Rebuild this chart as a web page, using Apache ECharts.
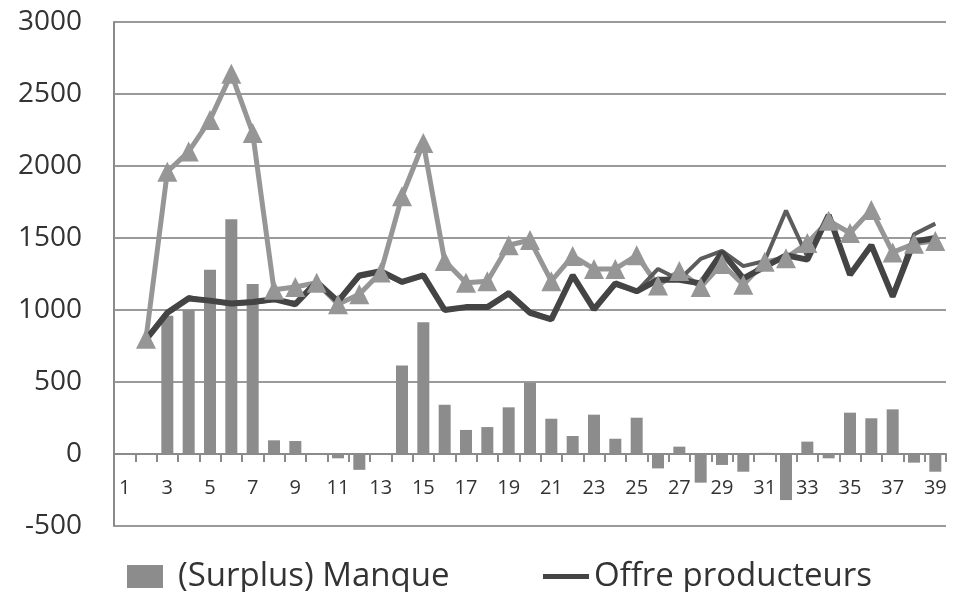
<!DOCTYPE html>
<html>
<head>
<meta charset="utf-8">
<script src="https://cdn.jsdelivr.net/npm/echarts@6/dist/echarts.min.js"></script>
<style>html,body{margin:0;padding:0;background:#fff}#c{width:958px;height:592px}</style>
</head>
<body>
<div id="c"></div>
<script>
const categories = ['1','2','3','4','5','6','7','8','9','10','11','12','13','14','15','16','17','18','19','20','21','22','23','24','25','26','27','28','29','30','31','32','33','34','35','36','37','38','39'];
const manque = [null,-5,960,1000,1280,1630,1180,95,90,0,-30,-110,0,615,915,342,167,187,324,495,245,125,273,106,252,-100,51,-199,-76,-123,8,-320,86,-30,287,248,310,-60,-123];
const demande = [null,800,1960,2100,2320,2640,2230,1140,1160,1190,1040,1110,1260,1790,2160,1340,1190,1200,1450,1486,1200,1375,1285,1285,1380,1170,1270,1160,1320,1175,1335,1360,1465,1620,1535,1695,1400,1460,1480];
const offreTotale = [null,800,990,1090,1060,1040,1050,1070,1050,1200,1065,1230,1260,1190,1245,1000,1023,1013,1126,991,940,1245,1007,1174,1130,1285,1210,1355,1410,1305,1340,1690,1370,1650,1245,1446,1090,1525,1600];
const offreProducteurs = [null,795,980,1080,1065,1045,1055,1075,1040,1195,1060,1240,1270,1195,1240,1000,1020,1020,1115,980,935,1240,1005,1185,1130,1210,1210,1185,1400,1220,1300,1380,1350,1660,1245,1450,1095,1475,1500];
const yTicks = {min:-500, max:3000, interval:500};

const FONT = 'Open Sans';
const chart = echarts.init(document.getElementById('c'), null, {renderer:'canvas'});
chart.setOption({
  animation:false,
  backgroundColor:'#fff',
  grid:{left:114, right:12, top:22, bottom:66},
  legend:[
    {
      data:[{name:'(Surplus) Manque', icon:'rect'}],
      left:122, top:555, itemWidth:36, itemHeight:23, itemGap:10,
      textStyle:{fontFamily:FONT, fontSize:33, color:'#333', padding:[0,0,0,10]}
    },
    {
      data:[{name:'Offre producteurs', icon:'rect'}],
      left:538, top:555, itemWidth:46, itemHeight:5, itemGap:10,
      textStyle:{fontFamily:FONT, fontSize:33, color:'#333'}
    }
  ],
  xAxis:[
    {
      type:'category', data:categories, boundaryGap:true,
      axisLine:{onZero:true, lineStyle:{color:'#8a8a8a', width:2}},
      axisTick:{show:true, length:8, lineStyle:{color:'#8a8a8a', width:2}, interval:0},
      axisLabel:{show:false}
    },
    {
      type:'category', data:categories, boundaryGap:true, position:'bottom', offset:-72,
      axisLine:{show:false, onZero:false}, axisTick:{show:false},
      axisLabel:{interval:1, fontFamily:FONT, fontSize:20, color:'#333', margin:24}
    }
  ],
  yAxis:{
    type:'value', min:yTicks.min, max:yTicks.max, interval:yTicks.interval,
    axisLine:{show:true, lineStyle:{color:'#8a8a8a', width:2}},
    axisTick:{show:false},
    splitLine:{lineStyle:{color:'#9a9a9a', width:2}},
    axisLabel:{fontFamily:FONT, fontSize:28, color:'#333', margin:32, formatter:function(v){return String(v);}}
  },
  series:[
    {name:'(Surplus) Manque', type:'bar', data:manque, barWidth:12, itemStyle:{color:'#8c8c8c'}},
    {name:'Demande', type:'line', data:demande, symbol:'triangle', symbolSize:20, showAllSymbol:true, lineStyle:{color:'#969696', width:5}, itemStyle:{color:'#969696'}},
    {name:'Offre totale', type:'line', data:offreTotale, symbol:'none', lineStyle:{color:'#5c5c5c', width:4}, itemStyle:{color:'#5c5c5c'}},
    {name:'Offre producteurs', type:'line', data:offreProducteurs, symbol:'none', lineStyle:{color:'#444444', width:6}, itemStyle:{color:'#444444'}}
  ]
});
</script>
</body>
</html>
